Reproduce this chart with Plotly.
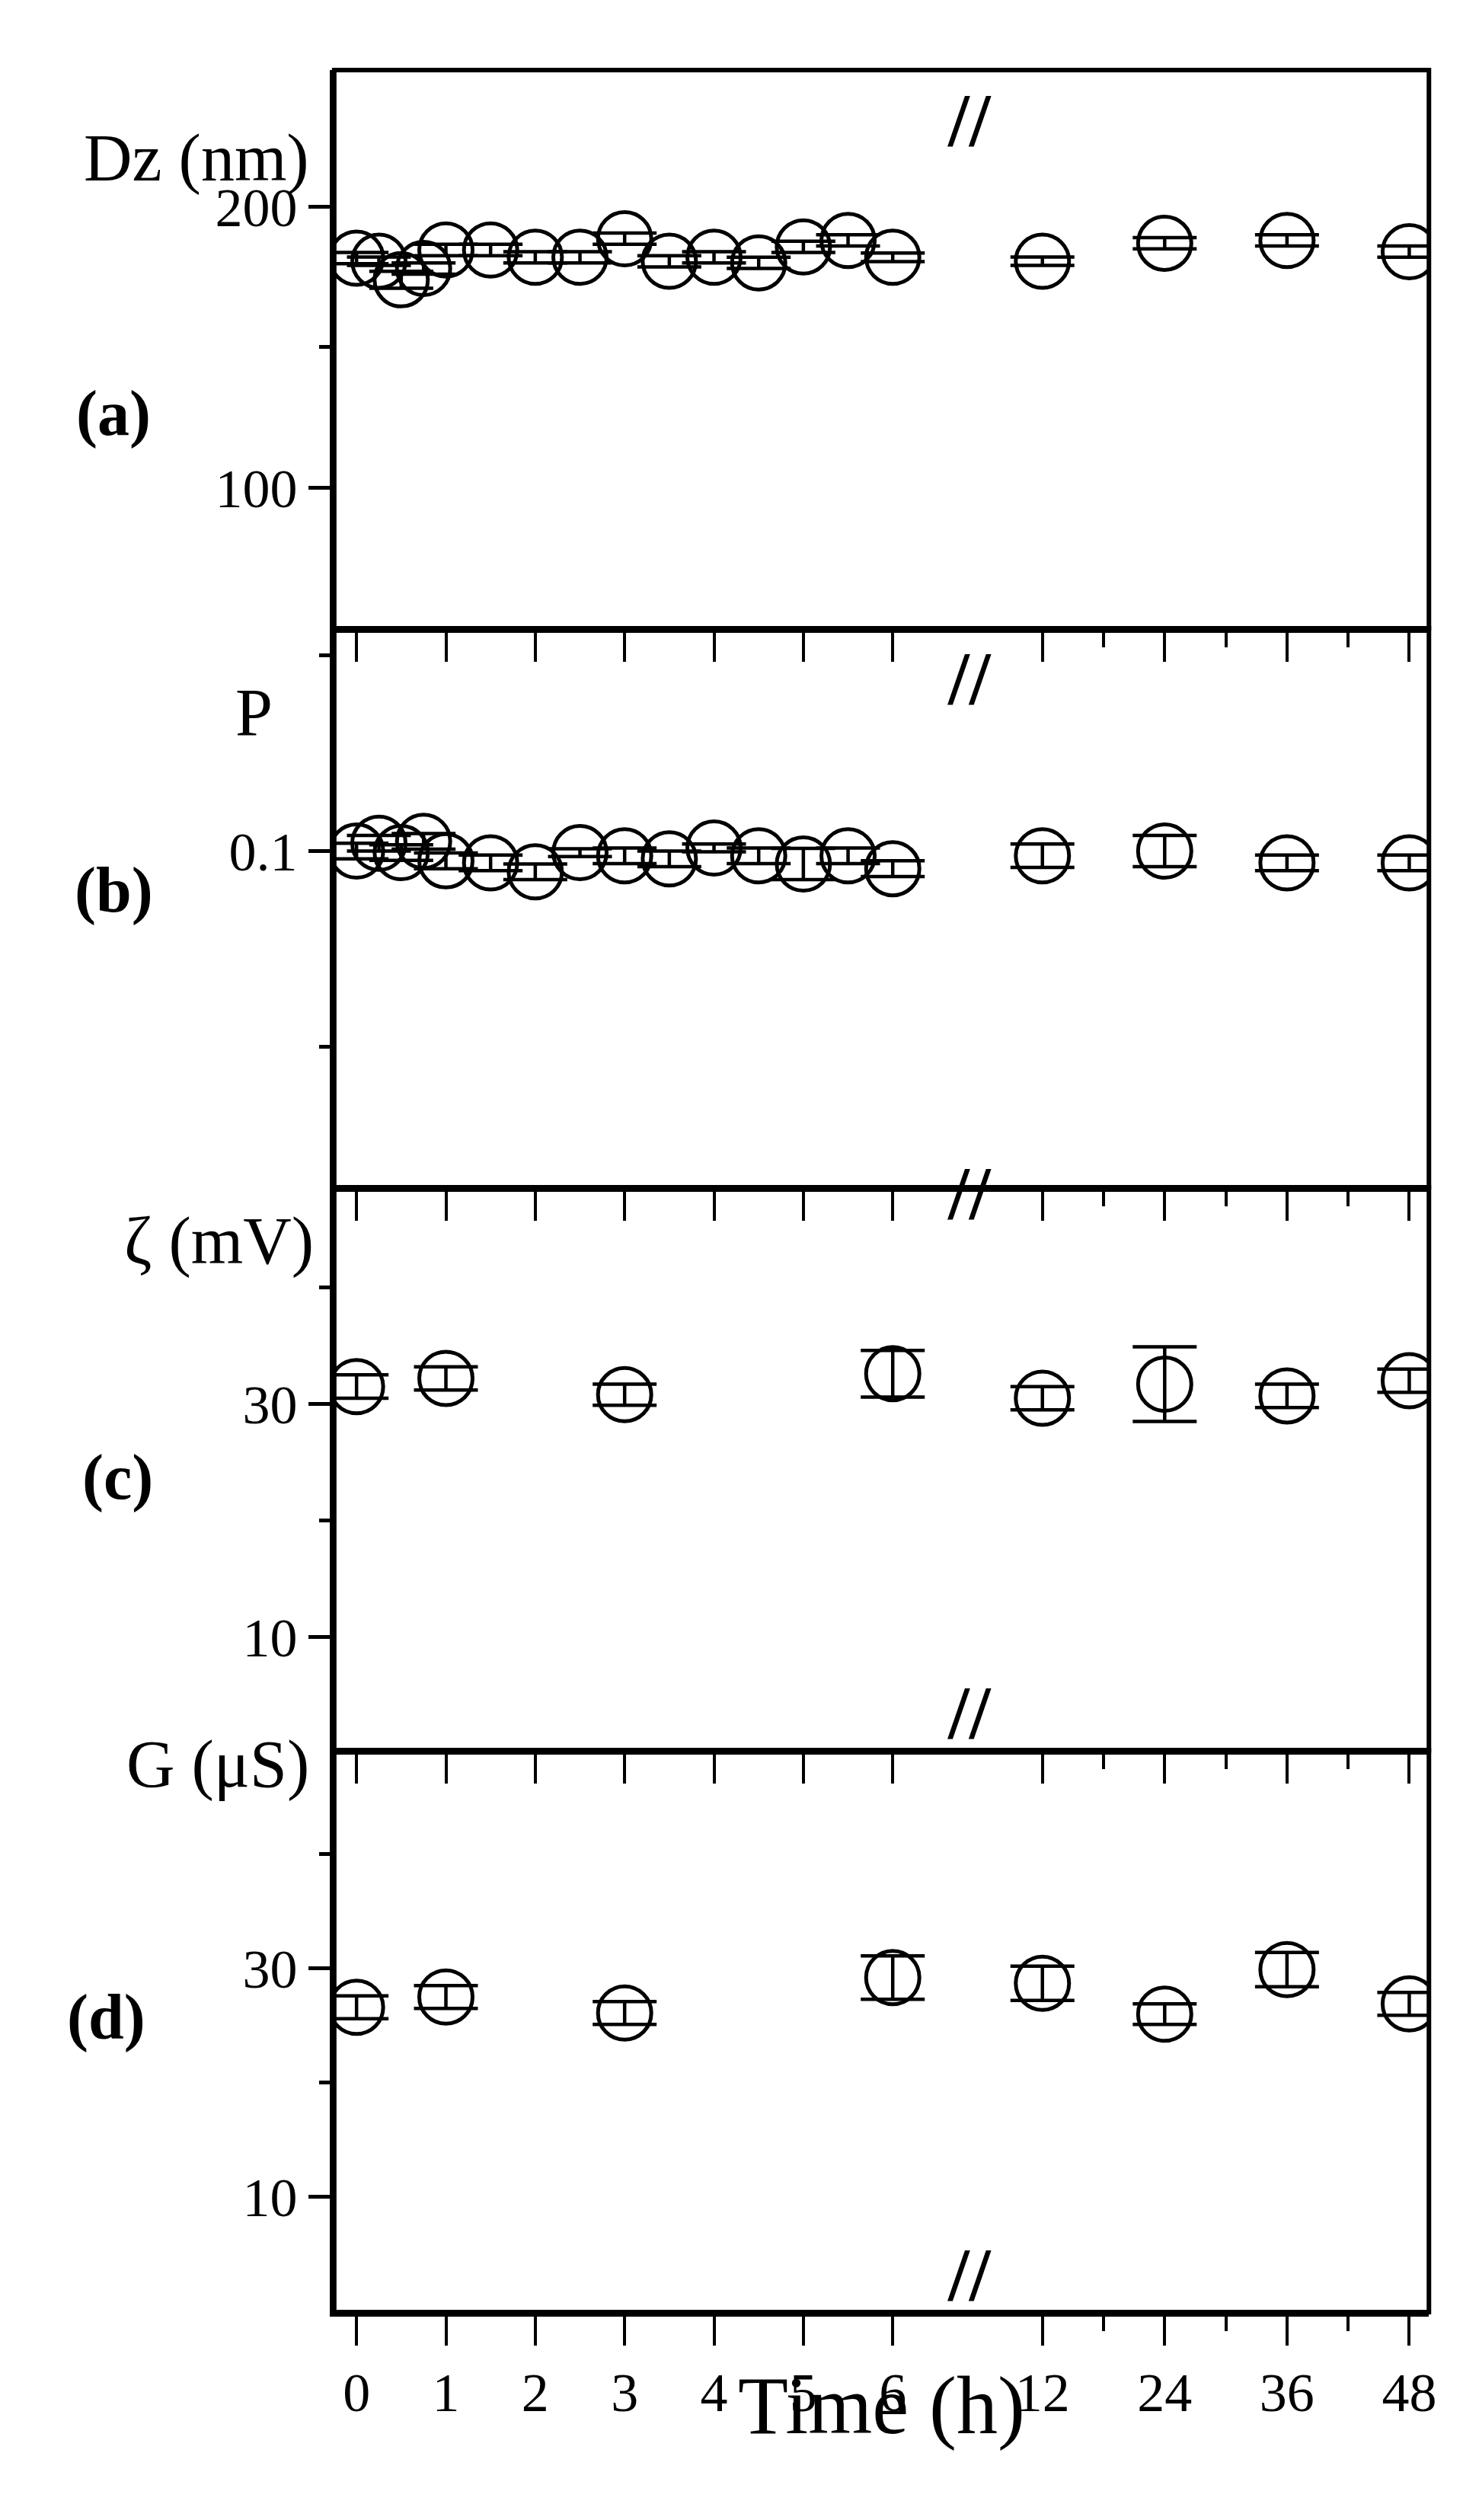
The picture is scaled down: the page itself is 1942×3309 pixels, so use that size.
import numpy as np
import plotly.graph_objects as go

# ---------------- data ----------------
t_dz = [0, 0.25, 0.5, 0.75, 1, 1.5, 2, 2.5, 3, 3.5, 4, 4.5, 5, 5.5, 6, 12, 24, 36, 48]
dz = [181.7, 180.6, 174.0, 178.0, 184.6, 184.6, 182.0, 182.0, 188.6, 180.6, 182.0, 180.0,
      185.7, 188.0, 182.0, 180.6, 187.0, 188.0, 184.0]
dz_err = [2, 1.5, 3, 2, 2, 2, 2, 2, 2, 2, 2, 2, 2, 2, 1.5, 1.5, 2, 2, 2]

t_p = t_dz
p = [0.100, 0.102, 0.0996, 0.1025, 0.0975, 0.097, 0.0947, 0.0996, 0.0988, 0.098, 0.1008,
     0.0988, 0.0967, 0.0988, 0.0955, 0.0988, 0.100, 0.097, 0.097]
p_err = [0.002, 0.002, 0.002, 0.002, 0.002, 0.002, 0.002, 0.001, 0.002, 0.002, 0.001,
         0.002, 0.004, 0.002, 0.002, 0.003, 0.004, 0.002, 0.002]

t_zg = [0, 1, 3, 6, 12, 24, 36, 48]
zeta = [31.5, 32.2, 30.8, 32.6, 30.5, 31.7, 30.7, 32.0]
zeta_err = [1.0, 1.0, 0.9, 2.0, 1.0, 3.2, 1.0, 1.0]
cond = [26.6, 27.5, 26.1, 29.2, 28.7, 26.0, 29.9, 26.9]
cond_err = [1.0, 1.0, 1.0, 1.9, 1.5, 0.9, 1.5, 1.0]

x_ticks = [0, 1, 2, 3, 4, 5, 6, 12, 24, 36, 48]
x_minor = [18, 30, 42]

# broken time axis: linear 0-6, then compressed segment 12-48
def pos(t):
    return np.interp(t, [0, 6, 12, 48], [0, 6, 7.675, 11.78])

FONT = "Liberation Serif"
fig = go.Figure()

domains = [(0.7531, 0.9746), (0.5313, 0.7531), (0.3079, 0.5313), (0.0849, 0.3079)]
panels = [
    (t_dz, dz, dz_err), (t_p, p, p_err), (t_zg, zeta, zeta_err), (t_zg, cond, cond_err)
]
for i, (tt, yy, ee) in enumerate(panels):
    fig.add_trace(go.Scatter(
        x=pos(np.array(tt)), y=yy, mode="markers",
        marker=dict(symbol="circle-open", size=70, color="black", line=dict(width=5)),
        error_y=dict(type="data", array=ee, visible=True, color="black", thickness=4.5, width=42),
        xaxis=f"x{i+1}" if i else "x", yaxis=f"y{i+1}" if i else "y", showlegend=False))

yconf = [
    dict(range=[50, 248.6], tickvals=[100, 200], minor=[150]),
    dict(range=[0.014, 0.157], tickvals=[0.1], minor=[0.05, 0.15]),
    dict(range=[0.3, 48.6], tickvals=[10, 30], minor=[20, 40]),
    dict(range=[-0.07, 49.1], tickvals=[10, 30], minor=[20, 40]),
]
xr = [-0.25, 12.0]
tickpos = list(pos(np.array(x_ticks)))
for i in range(4):
    xk = "xaxis" if i == 0 else f"xaxis{i+1}"
    yk = "yaxis" if i == 0 else f"yaxis{i+1}"
    ya = "y" if i == 0 else f"y{i+1}"
    fig.layout[xk] = dict(
        domain=[0.223, 0.967], range=xr, anchor=ya, showline=True, linewidth=6, linecolor="black",
        ticks="outside", ticklen=38, tickwidth=4, tickcolor="black",
        tickvals=tickpos, ticktext=[str(v) for v in x_ticks], showticklabels=(i == 3),
        minor=dict(tickvals=list(pos(np.array(x_minor))), ticks="outside", ticklen=19,
                   tickwidth=4, tickcolor="black"),
        tickfont=dict(family=FONT, size=72, color="black"), showgrid=False, zeroline=False)
    c = yconf[i]
    fig.layout[yk] = dict(
        domain=list(domains[i]), range=c["range"], anchor="x" if i == 0 else f"x{i+1}",
        showline=True, linewidth=6, linecolor="black",
        ticks="outside", ticklen=28, tickwidth=5, tickcolor="black", tickvals=c["tickvals"],
        minor=dict(tickvals=c["minor"], ticks="outside", ticklen=14, tickwidth=5, tickcolor="black"),
        tickfont=dict(family=FONT, size=72, color="black"), showgrid=False, zeroline=False)
    xref = "x domain" if i == 0 else f"x{i+1} domain"
    yref = "y domain" if i == 0 else f"y{i+1} domain"
    fig.add_shape(type="rect", xref=xref, yref=yref, x0=0, x1=1, y0=0, y1=1,
                  line=dict(color="black", width=6))

# axis break marks
bx = 0.223 + (7.12 + 0.25) / 12.25 * 0.744
for yb in [0.9746, 0.7531, 0.5313, 0.3079, 0.0849]:
    fig.add_annotation(x=bx, y=yb, xref="paper", yref="paper", text="<b>//</b>", showarrow=False,
                       yshift=-8, font=dict(family=FONT, size=100, color="black"))

# panel titles and letters
titles = [("Dz (nm)", 0.955, 0.207), ("P", 0.735, 0.182), ("ζ (mV)", 0.510, 0.210),
          ("G (μS)", 0.287, 0.207)]
for txt, yy, xx in titles:
    fig.add_annotation(x=xx, y=yy, xref="paper", yref="paper", text=txt, showarrow=False,
                       xanchor="right", font=dict(family=FONT, size=88, color="black"))
letters = [("(a)", 0.853, 0.073), ("(b)", 0.649, 0.073), ("(c)", 0.416, 0.076),
           ("(d)", 0.187, 0.068)]
for txt, yy, xx in letters:
    fig.add_annotation(x=xx, y=yy, xref="paper", yref="paper", text=f"<b>{txt}</b>",
                       showarrow=False, xanchor="center",
                       font=dict(family=FONT, size=84, color="black"))
fig.add_annotation(x=0.595, y=0.029, xref="paper", yref="paper", text="Time (h)",
                   showarrow=False, font=dict(family=FONT, size=108, color="black"))

fig.update_layout(width=1942, height=3309, margin=dict(l=0, r=0, t=0, b=0),
                  paper_bgcolor="white", plot_bgcolor="white")
fig.write_html("out.html")
